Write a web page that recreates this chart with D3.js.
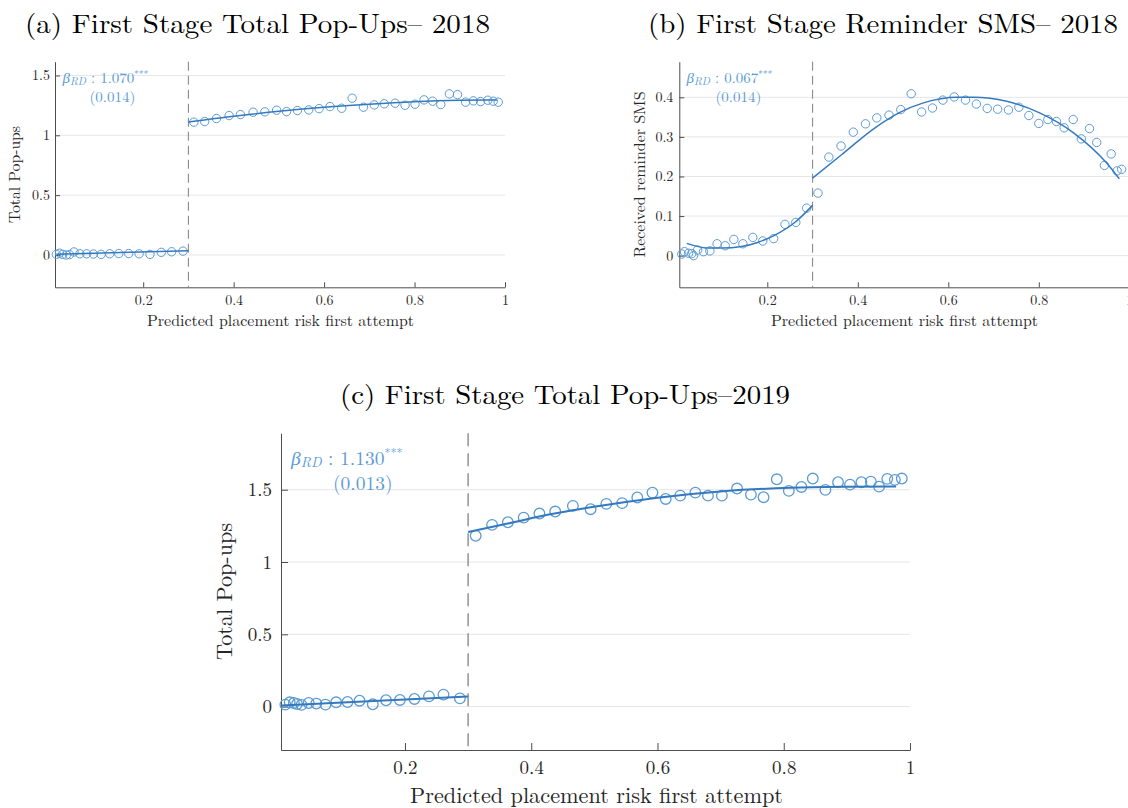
<!DOCTYPE html>
<html>
<head>
<meta charset="utf-8">
<script src="https://cdn.jsdelivr.net/npm/d3@7"></script>
<style>
  body { margin: 0; background: #fff; }
  svg { display: block; }
  text { font-family: "Latin Modern Roman", "Liberation Serif", serif; }
</style>
</head>
<body>
<svg id="chart" width="1128" height="808"></svg>
<script>
// ---------------- DATA ----------------
const xTickValues = [0.2, 0.4, 0.6, 0.8, 1];
const xTickLabels = ["0.2", "0.4", "0.6", "0.8", "1"];
const popTickValues = [0, 0.5, 1, 1.5];
const popTickLabels = ["0", "0.5", "1", "1.5"];
const smsTickValues = [0, 0.1, 0.2, 0.3, 0.4];
const smsTickLabels = ["0", "0.1", "0.2", "0.3", "0.4"];
const cutoff = 0.3;

// (a) Total Pop-Ups 2018
const aLeftX = [0.008, 0.015, 0.022, 0.030, 0.037, 0.047, 0.060, 0.075, 0.090, 0.107, 0.126, 0.146, 0.168, 0.191, 0.215, 0.240, 0.263, 0.288];
const aLeftY = [0.005, 0.015, 0.005, 0.000, 0.003, 0.025, 0.010, 0.010, 0.008, 0.005, 0.010, 0.012, 0.012, 0.010, 0.005, 0.022, 0.027, 0.032];
const aRightX = [0.312, 0.336, 0.362, 0.390, 0.415, 0.443, 0.469, 0.495, 0.517, 0.541, 0.566, 0.589, 0.613, 0.639, 0.662, 0.687, 0.711, 0.733, 0.757, 0.779, 0.801, 0.821, 0.840, 0.858, 0.877, 0.895, 0.913, 0.930, 0.946, 0.962, 0.974, 0.985];
const aRightY = [1.110, 1.115, 1.140, 1.165, 1.173, 1.193, 1.196, 1.210, 1.198, 1.207, 1.212, 1.223, 1.240, 1.226, 1.310, 1.235, 1.254, 1.263, 1.268, 1.251, 1.260, 1.296, 1.285, 1.257, 1.346, 1.340, 1.277, 1.288, 1.282, 1.293, 1.285, 1.277];
const aFitLeftX = [0.008, 0.15, 0.3];
const aFitLeftY = [0.006, 0.020, 0.035];
const aFitRightX = [0.3, 0.4, 0.5, 0.6, 0.7, 0.8, 0.9, 0.982];
const aFitRightY = [1.110, 1.159, 1.200, 1.234, 1.260, 1.280, 1.292, 1.296];

// (b) Reminder SMS 2018
const bLeftX = [0.011, 0.017, 0.026, 0.033, 0.037, 0.046, 0.059, 0.073, 0.089, 0.107, 0.126, 0.146, 0.168, 0.190, 0.214, 0.239, 0.263, 0.287];
const bLeftY = [0.004, 0.010, 0.006, 0.005, 0.000, 0.014, 0.010, 0.012, 0.030, 0.025, 0.041, 0.030, 0.046, 0.037, 0.043, 0.079, 0.084, 0.120];
const bRightX = [0.312, 0.336, 0.363, 0.390, 0.417, 0.442, 0.469, 0.495, 0.518, 0.541, 0.565, 0.588, 0.613, 0.638, 0.662, 0.686, 0.709, 0.733, 0.756, 0.778, 0.800, 0.820, 0.839, 0.856, 0.876, 0.894, 0.912, 0.928, 0.945, 0.960, 0.973, 0.983];
const bRightY = [0.158, 0.249, 0.277, 0.312, 0.333, 0.348, 0.355, 0.369, 0.409, 0.363, 0.373, 0.393, 0.401, 0.393, 0.383, 0.372, 0.370, 0.368, 0.375, 0.354, 0.334, 0.344, 0.339, 0.323, 0.344, 0.295, 0.321, 0.286, 0.228, 0.257, 0.214, 0.218];
const bFitLeftX = [0.022, 0.07, 0.10, 0.143, 0.18, 0.217, 0.26, 0.3];
const bFitLeftY = [0.031, 0.019, 0.019, 0.023, 0.034, 0.052, 0.083, 0.127];
const bFitRightX = [0.3, 0.364, 0.438, 0.493, 0.545, 0.619, 0.655, 0.729, 0.803, 0.876, 0.95, 0.978];
const bFitRightY = [0.196, 0.255, 0.323, 0.362, 0.386, 0.400, 0.400, 0.390, 0.360, 0.311, 0.234, 0.194];

// (c) Total Pop-Ups 2019
const cLeftX = [0.0105, 0.0174, 0.024, 0.029, 0.036, 0.0475, 0.0595, 0.074, 0.091, 0.109, 0.128, 0.149, 0.170, 0.192, 0.215, 0.238, 0.261, 0.287];
const cLeftY = [0.014, 0.030, 0.025, 0.018, 0.012, 0.025, 0.021, 0.014, 0.030, 0.032, 0.041, 0.016, 0.044, 0.046, 0.053, 0.071, 0.083, 0.057];
const cRightX = [0.312, 0.338, 0.363, 0.388, 0.413, 0.438, 0.466, 0.494, 0.519, 0.544, 0.568, 0.592, 0.613, 0.636, 0.660, 0.680, 0.702, 0.726, 0.748, 0.768, 0.789, 0.808, 0.828, 0.846, 0.866, 0.886, 0.905, 0.923, 0.938, 0.951, 0.964, 0.976, 0.987];
const cRightY = [1.181, 1.257, 1.275, 1.307, 1.335, 1.349, 1.388, 1.365, 1.402, 1.407, 1.446, 1.480, 1.436, 1.459, 1.480, 1.459, 1.459, 1.508, 1.466, 1.448, 1.572, 1.492, 1.519, 1.577, 1.499, 1.552, 1.535, 1.552, 1.556, 1.521, 1.575, 1.568, 1.577];
const cFitLeftX = [0.004, 0.15, 0.3];
const cFitLeftY = [0.008, 0.039, 0.070];
const cFitRightX = [0.3, 0.363, 0.43, 0.494, 0.6, 0.704, 0.81, 0.9, 0.978];
const cFitRightY = [1.208, 1.266, 1.330, 1.378, 1.445, 1.490, 1.513, 1.520, 1.522];

// ---------------- DRAWING ----------------
const FONT = '"Latin Modern Roman", "Liberation Serif", serif';
const svg = d3.select("#chart");
const markerColor = "#5b9bd5";
const lineColor = "#3479bd";
const annColor = "#5b9bd5";

function zip(xs, ys) { return xs.map((x, i) => ({ x: x, y: ys[i] })); }

function panel(cfg) {
  const g = svg.append("g");
  const x = d3.scaleLinear().domain(cfg.xDomain).range([cfg.left, cfg.right]);
  const y = d3.scaleLinear().domain(cfg.yDomain).range([cfg.bottom, cfg.top]);

  // gridlines
  g.append("g").selectAll("line").data(cfg.yTicks).join("line")
    .attr("x1", cfg.left).attr("x2", cfg.right)
    .attr("y1", d => y(d)).attr("y2", d => y(d))
    .attr("stroke", "#e6e6e6").attr("stroke-width", 1);

  // axes
  const xAxis = d3.axisBottom(x).tickValues(xTickValues)
    .tickFormat((d, i) => xTickLabels[i])
    .tickSizeInner(-cfg.tick).tickSizeOuter(0).tickPadding(cfg.xPad);
  const yAxis = d3.axisLeft(y).tickValues(cfg.yTicks)
    .tickFormat((d, i) => cfg.yLabels[i])
    .tickSizeInner(-cfg.tick).tickSizeOuter(0).tickPadding(cfg.yPad);
  const gx = g.append("g").attr("transform", `translate(0,${cfg.bottom})`).call(xAxis);
  const gy = g.append("g").attr("transform", `translate(${cfg.left},0)`).call(yAxis);
  [gx, gy].forEach(ax => {
    ax.attr("font-family", null);
    ax.select(".domain").attr("stroke", "#4d4d4d").attr("stroke-width", 1);
    ax.selectAll(".tick line").attr("stroke", "#4d4d4d");
    ax.selectAll(".tick text").attr("fill", "#262626")
      .style("font-family", FONT)
      .style("font-size", cfg.tickFs + "px");
  });

  // cutoff dashed line
  g.append("line")
    .attr("x1", x(cutoff)).attr("x2", x(cutoff))
    .attr("y1", cfg.top).attr("y2", cfg.bottom)
    .attr("stroke", "#8c8c8c").attr("stroke-width", cfg.dashW)
    .attr("stroke-dasharray", cfg.dash);

  // markers
  const pts = zip(cfg.lx, cfg.ly).concat(zip(cfg.rx, cfg.ry));
  g.append("g").selectAll("circle").data(pts).join("circle")
    .attr("cx", d => x(d.x)).attr("cy", d => y(d.y)).attr("r", cfg.r)
    .attr("fill", "none").attr("stroke", markerColor).attr("stroke-width", cfg.mW);

  // fit lines
  const line = d3.line().x(d => x(d.x)).y(d => y(d.y)).curve(d3.curveMonotoneX);
  [zip(cfg.flx, cfg.fly), zip(cfg.frx, cfg.fry)].forEach(s => {
    g.append("path").attr("d", line(s)).attr("fill", "none")
      .attr("stroke", lineColor).attr("stroke-width", cfg.lineW);
  });

  // titles/labels
  g.append("text").attr("x", cfg.title.x).attr("y", cfg.title.y)
    .style("font-family", FONT).attr("font-size", cfg.title.fs).attr("fill", "#000")
    .attr("textLength", cfg.title.w).attr("lengthAdjust", "spacingAndGlyphs")
    .text(cfg.title.text);
  g.append("text").attr("x", cfg.xl.x).attr("y", cfg.xl.y)
    .style("font-family", FONT).attr("font-size", cfg.xl.fs).attr("fill", "#262626")
    .attr("textLength", cfg.xl.w).attr("lengthAdjust", "spacingAndGlyphs")
    .text(cfg.xl.text);
  g.append("text")
    .attr("transform", `translate(${cfg.yl.x},${cfg.yl.y}) rotate(-90)`)
    .attr("text-anchor", "middle")
    .style("font-family", FONT).attr("font-size", cfg.yl.fs).attr("fill", "#262626")
    .attr("textLength", cfg.yl.w).attr("lengthAdjust", "spacingAndGlyphs")
    .text(cfg.yl.text);

  // annotation
  const a = cfg.ann;
  const t1 = g.append("text").attr("x", a.x).attr("y", a.y)
    .style("font-family", FONT).attr("font-size", a.fs).attr("fill", annColor);
  t1.append("tspan").attr("font-style", "italic").text("β");
  t1.append("tspan").attr("font-style", "italic").attr("font-size", a.fs * 0.72)
    .attr("dy", a.fs * 0.15).text("RD");
  t1.append("tspan").attr("dy", -a.fs * 0.15).text(" : " + a.coef);
  t1.append("tspan").attr("font-size", a.fs * 0.62).attr("dy", -a.fs * 0.38).text("***");
  g.append("text").attr("x", a.x2).attr("y", a.y2)
    .style("font-family", FONT).attr("font-size", a.fs).attr("fill", annColor).text(a.se);
}

panel({
  xDomain: [0.005, 1], yDomain: [-0.27, 1.615],
  left: 55, right: 505, top: 61.7, bottom: 287.3,
  yTicks: popTickValues, yLabels: popTickLabels,
  tick: 5, xPad: 8, yPad: 5, tickFs: 14, dash: "9,5", dashW: 1.1,
  r: 4.2, mW: 1, lineW: 1.5,
  lx: aLeftX, ly: aLeftY, rx: aRightX, ry: aRightY,
  flx: aFitLeftX, fly: aFitLeftY, frx: aFitRightX, fry: aFitRightY,
  title: { text: "(a) First Stage Total Pop-Ups– 2018", x: 25, y: 33, fs: 27, w: 465 },
  xl: { text: "Predicted placement risk first attempt", x: 147, y: 326, fs: 16, w: 267 },
  yl: { text: "Total Pop-ups", x: 20, y: 174.5, fs: 16, w: 97 },
  ann: { x: 62.5, y: 82.5, fs: 15, coef: "1.070", se: "(0.014)", x2: 89.5, y2: 102 }
});

panel({
  xDomain: [0.0055, 1], yDomain: [-0.08, 0.49],
  left: 679.3, right: 1129.3, top: 61.7, bottom: 287.3,
  yTicks: smsTickValues, yLabels: smsTickLabels,
  tick: 5, xPad: 8, yPad: 6, tickFs: 14, dash: "9,5", dashW: 1.1,
  r: 4.2, mW: 1, lineW: 1.5,
  lx: bLeftX, ly: bLeftY, rx: bRightX, ry: bRightY,
  flx: bFitLeftX, fly: bFitLeftY, frx: bFitRightX, fry: bFitRightY,
  title: { text: "(b) First Stage Reminder SMS– 2018", x: 648, y: 33, fs: 27, w: 470 },
  xl: { text: "Predicted placement risk first attempt", x: 771, y: 326, fs: 16, w: 267 },
  yl: { text: "Received reminder SMS", x: 645, y: 174.5, fs: 16, w: 166 },
  ann: { x: 686.5, y: 82.5, fs: 15, coef: "0.067", se: "(0.014)", x2: 715.5, y2: 102 }
});

panel({
  xDomain: [0.0036, 1], yDomain: [-0.3, 1.89],
  left: 281, right: 910, top: 433.3, bottom: 750,
  yTicks: popTickValues, yLabels: popTickLabels,
  tick: 7, xPad: 11, yPad: 9, tickFs: 19, dash: "13,7", dashW: 1.4,
  r: 5.3, mW: 1.3, lineW: 2,
  lx: cLeftX, ly: cLeftY, rx: cRightX, ry: cRightY,
  flx: cFitLeftX, fly: cFitLeftY, frx: cFitRightX, fry: cFitRightY,
  title: { text: "(c) First Stage Total Pop-Ups–2019", x: 340, y: 404, fs: 27, w: 450 },
  xl: { text: "Predicted placement risk first attempt", x: 410, y: 803, fs: 22, w: 373 },
  yl: { text: "Total Pop-ups", x: 232, y: 591.5, fs: 22, w: 137 },
  ann: { x: 291, y: 464.5, fs: 19.5, coef: "1.130", se: "(0.013)", x2: 333, y2: 490 }
});
</script>
</body>
</html>
